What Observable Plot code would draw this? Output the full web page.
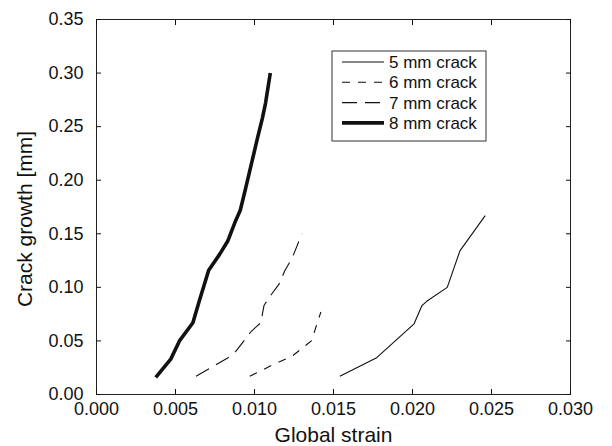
<!DOCTYPE html>
<html><head><meta charset="utf-8">
<script src="https://cdn.jsdelivr.net/npm/d3@7"></script>
<script src="https://cdn.jsdelivr.net/npm/@observablehq/plot@0.6"></script>
<style>
body{margin:0;background:#fff;}
#chart{width:612px;height:446px;}
</style>
</head><body><div id="chart"></div>
<script>
// ---- data ----
const crackNames = ["5 mm crack", "6 mm crack", "7 mm crack", "8 mm crack"];
const strain5 = [0.0154, 0.0177, 0.0201, 0.0206, 0.0209, 0.0222, 0.0230, 0.0246];
const growth5 = [0.017, 0.034, 0.066, 0.083, 0.087, 0.100, 0.134, 0.167];
const strain6 = [0.0097, 0.0112, 0.0124, 0.0136, 0.0142];
const growth6 = [0.017, 0.028, 0.036, 0.050, 0.077];
const strain7 = [0.0063, 0.0083, 0.0088, 0.0098, 0.0104, 0.0106, 0.0110, 0.0116, 0.0119, 0.0124, 0.0130];
const growth7 = [0.017, 0.034, 0.040, 0.059, 0.067, 0.083, 0.092, 0.104, 0.115, 0.128, 0.150];
const strain8 = [0.00375, 0.0047, 0.00525, 0.0061, 0.0065, 0.0071, 0.0078, 0.0083, 0.0088, 0.0091, 0.0094, 0.0098, 0.0102, 0.0105, 0.0107, 0.0110];
const growth8 = [0.016, 0.033, 0.050, 0.067, 0.087, 0.116, 0.131, 0.143, 0.162, 0.172, 0.190, 0.215, 0.240, 0.258, 0.272, 0.300];
const xTicks = [0, 0.005, 0.010, 0.015, 0.020, 0.025, 0.030];
const yTicks = [0, 0.05, 0.10, 0.15, 0.20, 0.25, 0.30, 0.35];
const xTitle = "Global strain";
const yTitle = "Crack growth [mm]";

// ---- styles ----
const lineStyles = [
  {width: 1.1, dash: null},
  {width: 1.1, dash: "8,8"},
  {width: 1.1, dash: "15,8"},
  {width: 3.6, dash: null}
];
const strains = [strain5, strain6, strain7, strain8];
const growths = [growth5, growth6, growth7, growth8];
const rows = crackNames.map((name, k) => strains[k].map((s, i) => ({crack: name, strain: s, growth: growths[k][i]})));

const ink = "#111";
const T = 5; // inward tick length
const chart = Plot.plot({
  width: 612, height: 446,
  marginLeft: 96, marginRight: 42, marginTop: 19, marginBottom: 52,
  x: {domain: [0, 0.03]},
  y: {domain: [0, 0.35]},
  style: {fontFamily: "'Liberation Sans', Arial, sans-serif", fontSize: "18px", color: ink, background: "white", overflow: "visible"},
  marks: [
    Plot.frame({stroke: "#222", strokeWidth: 1}),
    Plot.axisX(xTicks, {tickSize: 0, tickPadding: 8, tickFormat: d3.format(".3f"), label: null}),
    Plot.axisX(xTicks, {tickSize: T, dy: -T, tickFormat: () => "", label: null}),
    Plot.axisX(xTicks, {anchor: "top", tickSize: T, dy: T, tickFormat: () => "", label: null}),
    Plot.axisY(yTicks, {tickSize: 0, tickPadding: 13, tickFormat: d3.format(".2f"), label: null}),
    Plot.axisY(yTicks, {tickSize: T, dx: T, tickFormat: () => "", label: null}),
    Plot.axisY(yTicks, {anchor: "right", tickSize: T, dx: -T, tickFormat: () => "", label: null}),
    ...rows.map((r, k) => Plot.line(r, {
      x: "strain", y: "growth", stroke: ink,
      strokeWidth: lineStyles[k].width,
      strokeDasharray: lineStyles[k].dash,
      strokeLinejoin: "round", strokeLinecap: "butt"
    })),
    Plot.text([xTitle], {frameAnchor: "bottom", lineAnchor: "middle", textAnchor: "middle", dy: 41, fontSize: 21, fill: ink}),
    Plot.text([yTitle], {frameAnchor: "left", lineAnchor: "middle", textAnchor: "middle", dx: -71, dy: 12, rotate: -90, fontSize: 21, fill: ink})
  ]
});
document.getElementById("chart").append(chart);

// ---- legend ----
const svg = d3.select(chart);
const lg = svg.append("g").attr("font-family", "'Liberation Sans', Arial, sans-serif").attr("font-size", 17)
  .attr("text-anchor", "start");
const boxX = 332, boxY = 51, boxW = 154, rowH = 20.3, firstRow = 62;
lg.append("rect").attr("x", boxX).attr("y", boxY).attr("width", boxW).attr("height", 90)
  .attr("fill", "white").attr("stroke", "#333").attr("stroke-width", 1);
crackNames.forEach((name, k) => {
  const cy = firstRow + k * rowH;
  lg.append("line").attr("x1", 342).attr("x2", 384).attr("y1", cy).attr("y2", cy)
    .attr("stroke", ink).attr("stroke-width", lineStyles[k].width)
    .attr("stroke-dasharray", lineStyles[k].dash);
  lg.append("text").attr("x", 389).attr("y", cy).attr("dy", "0.35em").attr("text-anchor", "start")
    .attr("fill", ink).text(name);
});
</script>
</body></html>
